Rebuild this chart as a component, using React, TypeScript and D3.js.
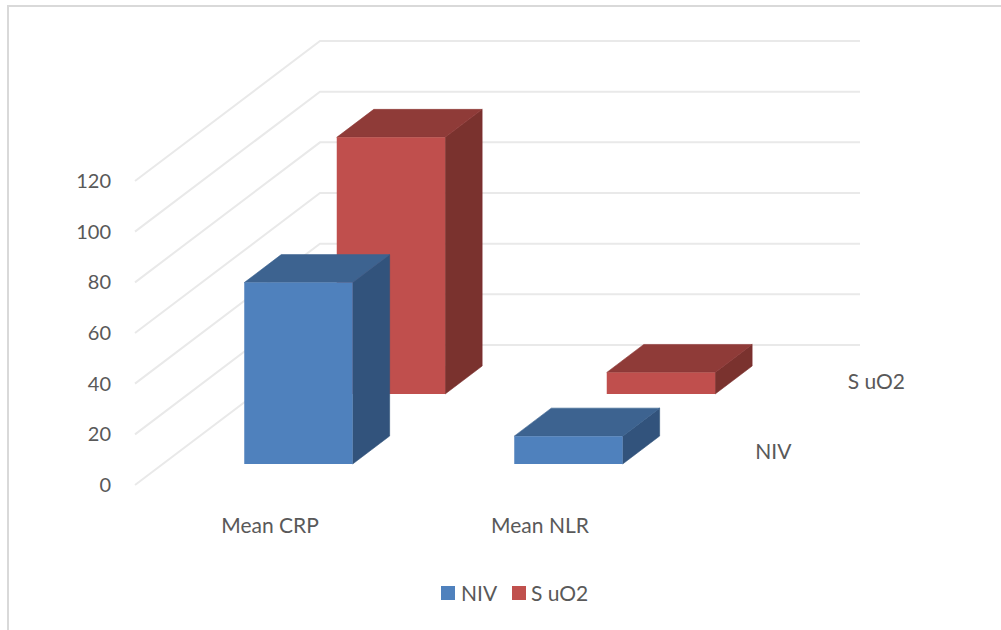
import * as d3 from "d3";

const categories = ["Mean CRP", "Mean NLR"];
const series = ["NIV", "S uO2"];
const nivValues = [71.6, 11];
const suo2Values = [101.3, 8.5];
const yTicks = [0, 20, 40, 60, 80, 100, 120];

const colors: Record<string, { front: string; top: string; side: string }> = {
  NIV: { front: "#4f81bd", top: "#3c6390", side: "#31527b" },
  "S uO2": { front: "#c0504d", top: "#8f3a38", side: "#7a302e" },
};

const FONT = "Lato, 'Open Sans', sans-serif";
const TEXT = "#595959";
const GRID = "#e9e9e9";

// front plane of the 3D box, the depth vector runs up and to the right
const plotLeft = 135;
const plotRight = 675;
const depthX = 185;
const depthY = -140;

const xScale = d3.scaleBand().domain(categories).range([plotLeft, plotRight]).paddingInner(0).paddingOuter(0);
const yScale = d3.scaleLinear().domain([0, 120]).range([485, 181]);
const zScale = d3.scaleBand().domain(series).range([0, 1]).paddingInner(0.6).paddingOuter(0.3);

const barWidth = 108.4;
const barShift = 0.7;

function project(x: number, v: number, z: number): [number, number] {
  return [x + z * depthX, yScale(v) + z * depthY];
}

const pts = (p: [number, number][]) => p.map((d) => d.join(",")).join(" ");

function Bar({ category, name, value }: { category: string; name: string; value: number }) {
  const x0 = xScale(category)! + xScale.bandwidth() / 2 - barWidth / 2 + barShift;
  const x1 = x0 + barWidth;
  const z0 = zScale(name)!;
  const z1 = z0 + zScale.bandwidth();
  const c = colors[name];
  return (
    <g strokeWidth={0.6} strokeLinejoin="round">
      <polygon
        fill={c.side}
        stroke={c.side}
        points={pts([project(x1, 0, z0), project(x1, 0, z1), project(x1, value, z1), project(x1, value, z0)])}
      />
      <polygon
        fill={c.top}
        stroke={c.top}
        points={pts([project(x0, value, z0), project(x1, value, z0), project(x1, value, z1), project(x0, value, z1)])}
      />
      <polygon
        fill={c.front}
        points={pts([project(x0, 0, z0), project(x1, 0, z0), project(x1, value, z0), project(x0, value, z0)])}
      />
    </g>
  );
}

export default function App() {
  const values: Record<string, number[]> = { NIV: nivValues, "S uO2": suo2Values };
  return (
    <svg
      width={1001}
      height={630}
      style={{ position: "fixed", left: 0, top: 0, background: "#fff", fontFamily: FONT }}
    >
      <defs>
        <filter id="soft" x="-5%" y="-5%" width="110%" height="110%">
          <feGaussianBlur stdDeviation="0.5" />
        </filter>
      </defs>

      {/* outer frame, only top and left show */}
      <path d="M8,630V6H1001" fill="none" stroke="#d9d9d9" strokeWidth={2} />

      {/* gridlines on side and back wall */}
      <g fill="none" stroke={GRID} strokeWidth={2} filter="url(#soft)">
        {yTicks.map((t) => {
          const a = project(plotLeft, t, 0);
          const b = project(plotLeft, t, 1);
          const c = project(plotRight, t, 1);
          return <polyline key={t} points={pts([a, b, c])} />;
        })}
      </g>

      {/* back series first so the front one covers it */}
      <g filter="url(#soft)">
        {[...series].reverse().map((name) =>
          categories.map((cat, i) => <Bar key={name + cat} category={cat} name={name} value={values[name][i]} />)
        )}
      </g>

      <g fontSize={21} fill={TEXT}>
        {yTicks.map((t) => (
          <text key={t} x={111} y={yScale(t) - 1} fontSize={20} textAnchor="end" dominantBaseline="central">
            {t}
          </text>
        ))}
        {categories.map((cat) => (
          <text key={cat} x={xScale(cat)! + xScale.bandwidth() / 2} y={524} textAnchor="middle" dominantBaseline="central">
            {cat}
          </text>
        ))}
        {series.map((name) => {
          const z = zScale(name)! + zScale.bandwidth() / 2;
          const [x, y] = project(plotRight, 0, z);
          return (
            <text key={name} x={x + 34} y={y} dominantBaseline="central">
              {name}
            </text>
          );
        })}
        {series.map((name, i) => (
          <g key={name} transform={`translate(${441 + i * 71},586)`}>
            <rect width={14} height={14} fill={colors[name].front} />
            <text x={i === 0 ? 20 : 19} y={6.5} dominantBaseline="central">
              {name}
            </text>
          </g>
        ))}
      </g>
    </svg>
  );
}
